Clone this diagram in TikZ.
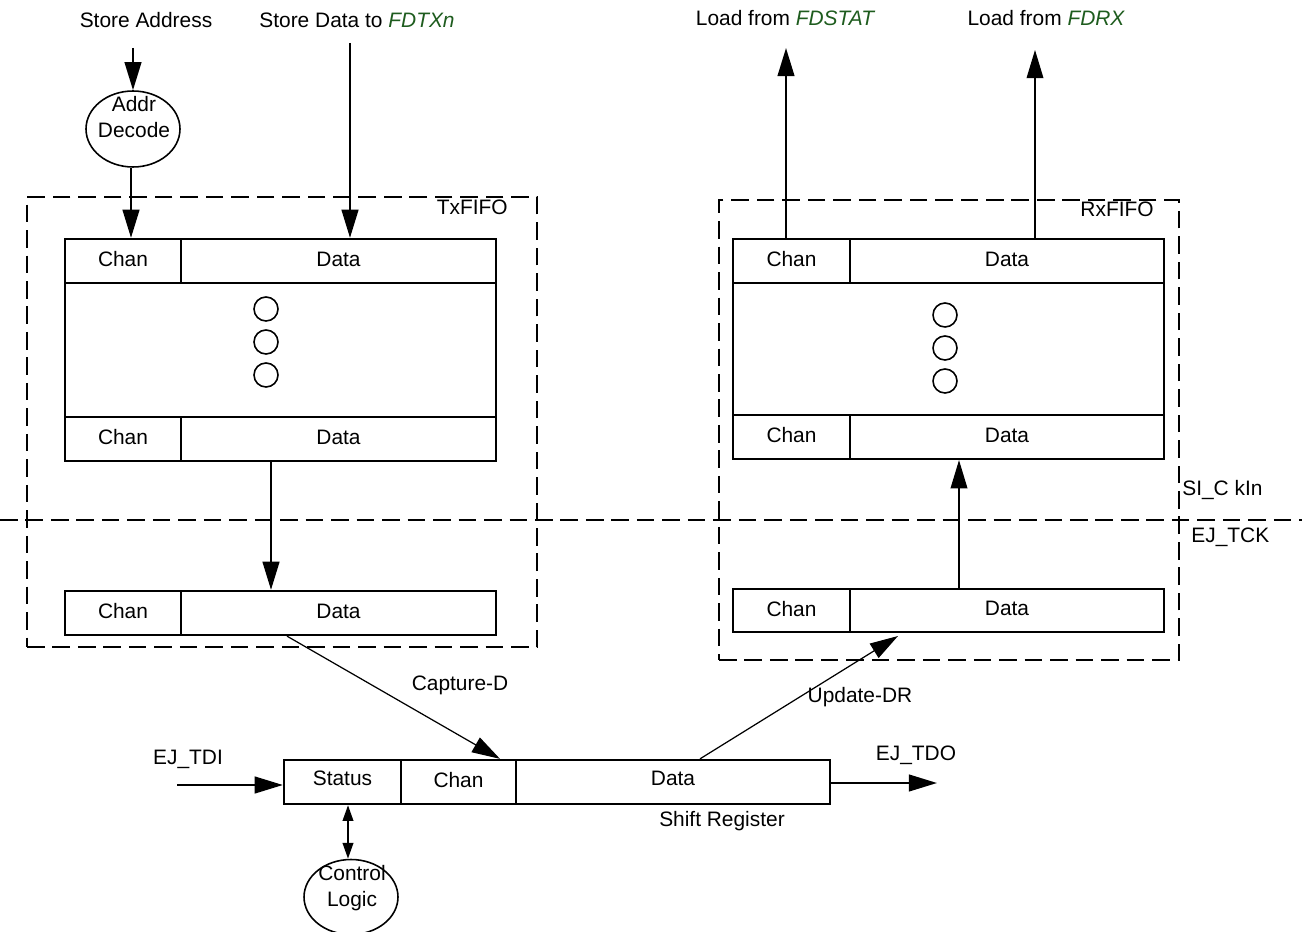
\documentclass[tikz,border=0pt]{standalone}
\usepackage{fontspec}
\setmainfont{Liberation Sans}
\usetikzlibrary{arrows.meta,shapes.geometric,fit}
\definecolor{fdgreen}{RGB}{30,92,30}
\newcommand\lblfont{\fontsize{11.9}{14}\selectfont}
\begin{document}
\begin{tikzpicture}[x=0.02cm,y=-0.02cm,
  every node/.style={font=\lblfont, inner sep=0pt},
  cell/.style={draw, line width=1.3pt, inner sep=0pt},
  dashbox/.style={draw, line width=1.2pt, dash pattern=on 10pt off 4.5pt, inner sep=0pt},
  bigarrow/.style={line width=1.2pt, -{Triangle[length=16pt,width=9.5pt]}},
  thinarrow/.style={line width=0.7pt, -{Triangle[length=16pt,width=9.5pt]}},
  dblarrow/.style={line width=1.2pt, {Triangle[length=9pt,width=6pt]}-{Triangle[length=9pt,width=6pt]}},
  bubble/.style={draw, ellipse, line width=0.9pt, inner sep=0pt},
  dot/.style={draw, circle, line width=0.9pt, minimum size=0.48cm, inner sep=0pt}]
\useasboundingbox (0,0) rectangle (1302,932);

% top labels
\node (sa) at (146,20) {Store Address};
\node (sd) at (357,20) {Store Data to \textit{\color{fdgreen}FDTXn}};
\node (lfs) at (785,18) {Load from \textit{\color{fdgreen}FDSTAT}};
\node (lfr) at (1046,18) {Load from \textit{\color{fdgreen}FDRX}};

% Addr decode
\node[bubble, minimum width=1.88cm, minimum height=1.52cm] (addr) at (133,129) {};
\node[align=center] (addrt) at (134,117) {Addr\\[1pt]Decode};

% dashed regions
\node[dashbox, fit={(27,197) (537,647)}] (txfifo) {};
\node[dashbox, fit={(719,200) (1179,660)}] (rxfifo) {};
\coordinate (clkL) at (0,520);
\coordinate (clkR) at (1302,520);
\draw[line width=1.2pt, dash pattern=on 10pt off 4.5pt] (clkL) -- (clkR);
\node[anchor=north east] (txl) at (508,200) {TxFIFO};
\node[anchor=north east] (rxl) at (1154,202) {RxFIFO};
\node[anchor=west] (sick) at (1182,490) {SI\_C kIn};
\node[anchor=west] (ejtck) at (1191,537) {EJ\_TCK};

% TxFIFO block
\node[cell, fit={(65,239) (496,461)}] (txblk) {};
\node[cell, fit={(65,239) (181,283)}, label={[yshift=1pt]center:Chan}] (txc1) {};
\node[cell, fit={(181,239) (496,283)}, label={[yshift=1pt]center:Data}] (txd1) {};
\node[cell, fit={(65,417) (181,461)}, label={[yshift=1pt]center:Chan}] (txc3) {};
\node[cell, fit={(181,417) (496,461)}, label={[yshift=1pt]center:Data}] (txd3) {};
\node[dot] (txo1) at (266,309) {};
\node[dot] (txo2) at (266,342) {};
\node[dot] (txo3) at (266,375) {};
\node[cell, fit={(65,591) (181,635)}, label={[yshift=1pt]center:Chan}] (txc2) {};
\node[cell, fit={(181,591) (496,635)}, label={[yshift=1pt]center:Data}] (txd2) {};

% RxFIFO block
\node[cell, fit={(733,239) (1164,459)}] (rxblk) {};
\node[cell, fit={(733,239) (850,283)}, label={[yshift=1pt]center:Chan}] (rxc1) {};
\node[cell, fit={(850,239) (1164,283)}, label={[yshift=1pt]center:Data}] (rxd1) {};
\node[cell, fit={(733,415) (850,459)}, label={[yshift=1pt]center:Chan}] (rxc3) {};
\node[cell, fit={(850,415) (1164,459)}, label={[yshift=1pt]center:Data}] (rxd3) {};
\node[dot] (rxo1) at (945,315) {};
\node[dot] (rxo2) at (945,348) {};
\node[dot] (rxo3) at (945,381) {};
\node[cell, fit={(733,589) (850,632)}, label={[yshift=1pt]center:Chan}] (rxc2) {};
\node[cell, fit={(850,589) (1164,632)}, label={[yshift=1pt]center:Data}] (rxd2) {};

% Shift register
\node[cell, fit={(284,760) (401,804)}, label={[yshift=2pt]center:Status}] (shs) {};
\node[cell, fit={(401,760) (516,804)}, label={[yshift=1pt]center:Chan}] (shc) {};
\node[cell, fit={(516,760) (830,804)}, label={[yshift=2pt]center:Data}] (shd) {};
\node (shl) at (722,821) {Shift Register};

% Control logic
\node[bubble, minimum width=1.88cm, minimum height=1.5cm] (ctl) at (351,897) {};
\node[align=center] (ctlt) at (352,888) {Control\\[1pt]Logic};

% labels
\node (capl) at (460,685) {Capture-D};
\node (updl) at (860,697) {Update-DR};
\node (tdil) at (188,759) {EJ\_TDI};
\node (tdol) at (916,755) {EJ\_TDO};

% connectors
\coordinate (sastart) at (133,48);
\draw[bigarrow] (sastart) -- (sastart |- addr.north);
\coordinate (addrx) at (131,0);
\draw[bigarrow] (addrx |- addr.south) -- (addrx |- txc1.north);
\coordinate (sdstart) at (350,43);
\draw[bigarrow] (sdstart) -- (sdstart |- txd1.north);
\coordinate (fstend) at (786,48);
\draw[bigarrow] (fstend |- rxc1.north) -- (fstend);
\coordinate (frxend) at (1035,50);
\draw[thinarrow] (frxend |- rxd1.north) -- (frxend);
\coordinate (txdn) at (271,0);
\draw[bigarrow] (txdn |- txd3.south) -- (txdn |- txd2.north);
\coordinate (rxup) at (959,0);
\draw[thinarrow] (rxup |- rxd2.north) -- (rxup |- rxd3.south);
\coordinate (capx) at (287,0);
\coordinate (cape) at (500,0);
\draw[thinarrow] (capx |- txd2.south) -- (cape |- shd.north);
\coordinate (updx) at (700,0);
\coordinate (upde) at (898,636);
\draw[thinarrow] (updx |- shd.north) -- (upde);
\coordinate (tdistart) at (177,785);
\draw[bigarrow] (tdistart) -- (tdistart -| shs.west);
\coordinate (tdoend) at (937,783);
\draw[bigarrow] (tdoend -| shd.east) -- (tdoend);
\coordinate (ctlx) at (348,0);
\draw[dblarrow] (ctlx |- shs.south) -- (ctlx |- ctl.north);
\end{tikzpicture}
\end{document}
